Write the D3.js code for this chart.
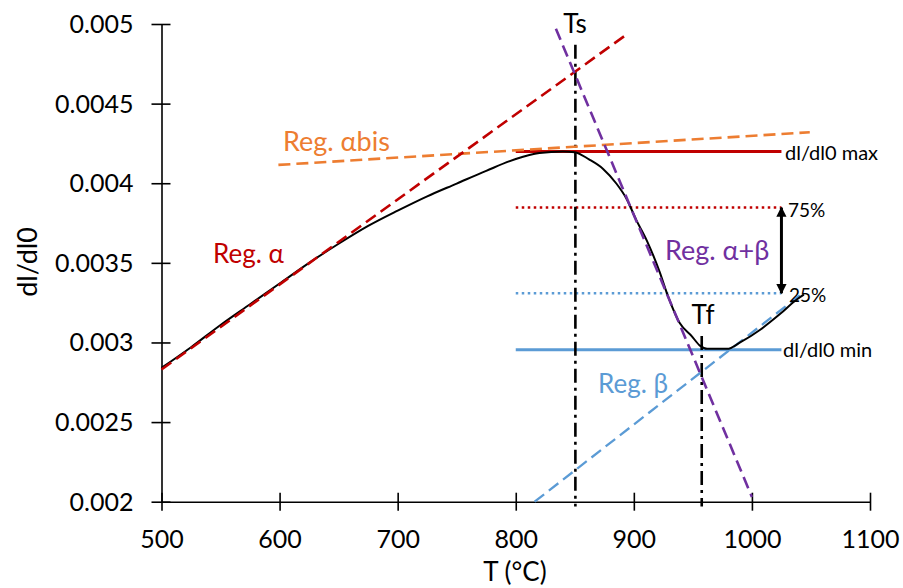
<!DOCTYPE html>
<html><head><meta charset="utf-8">
<script src="https://cdn.jsdelivr.net/npm/d3@7"></script>
<style>
html,body{margin:0;padding:0;background:#fff;}
text{font-family:Lato,"Open Sans",sans-serif;}
</style></head>
<body>
<svg id="chart" width="903" height="588"></svg>
<script>
// ---- data ----
const curveT  = [500,525,550,575,600,625,650,675,700,725,750,775,800,820,840,850,862,874,885,894,902,911,922,928,939,949,956,962,970,979,990,1007,1024,1038,1044];
const curveDl = [0.00284,0.00297,0.00311,0.00324,0.00337,0.00350,0.00362,0.003732,0.003828,0.003918,0.003998,0.004078,0.004152,0.00419,0.00420,0.004195,0.00415,0.00409,0.00400,0.00390,0.00377,0.00364,0.00344,0.00331,0.00312,0.00304,0.00298,0.00296,0.00296,0.00296,0.00300,0.00308,0.00318,0.00327,0.00330];

const regAlpha     = [[500,0.00283],[895,0.00494]];
const regAlphaBis  = [[599,0.004115],[1049,0.00432]];
const regAlphaBeta = [[834,0.00497],[1000,0.00203]];
const regBeta      = [[816,0.00200],[1043,0.00331]];

const dlMax = 0.00420, dlMin = 0.002955, lvl75 = 0.003847, lvl25 = 0.003309;
const hLineStart = 800, hLineEnd = 1025;
const Ts = 850.5, Tf = 957.5;
const TsTop = 0.00487, TfTop = 0.00304;

const xTicks = [500,600,700,800,900,1000,1100];
const yTicks = [0.002,0.0025,0.003,0.0035,0.004,0.0045,0.005];

// ---- scales ----
const svg = d3.select("#chart");
const x = d3.scaleLinear().domain([500,1100]).range([161.5,870]);
const y = d3.scaleLinear().domain([0.002,0.005]).range([501.7,24]);

const C = {red:"#C00000", orange:"#ED7D31", purple:"#7030A0", blue:"#5B9BD5"};

// ---- axes ----
const gx = svg.append("g").attr("transform",`translate(0,${y(0.002)})`)
  .call(d3.axisBottom(x).tickValues(xTicks).tickFormat(d3.format("d")).tickSizeOuter(0));
const gy = svg.append("g").attr("transform",`translate(${x(500)},0)`)
  .call(d3.axisLeft(y).tickValues(yTicks).tickFormat(d=>String(+d.toFixed(4))).tickSizeOuter(0));
[gx,gy].forEach(g=>{
  g.select(".domain").attr("stroke","#000").attr("stroke-width",1.6);
  g.selectAll(".tick line").attr("stroke","#000").attr("stroke-width",1.6);
  g.selectAll(".tick text").attr("fill","#000").style("font-size","25px").style("font-family","Lato");
});
gx.selectAll(".tick line").attr("y1",-9).attr("y2",9);
gx.selectAll(".tick text").attr("y",29);
gy.selectAll(".tick line").attr("x1",-10).attr("x2",9);
gy.selectAll(".tick text").attr("x",-28).attr("dy","0.34em");

svg.append("text").attr("x",515).attr("y",581).attr("text-anchor","middle")
  .style("font-size","26px").text("T (°C)");
svg.append("text").attr("transform","translate(37,262) rotate(-90)").attr("text-anchor","middle")
  .style("font-size","27px").text("dl/dl0");

// ---- lines ----
const line = d3.line().x(d=>x(d[0])).y(d=>y(d[1]));
function seg(pts,color,w,dash){
  svg.append("path").attr("d",line(pts)).attr("fill","none").attr("stroke",color)
    .attr("stroke-width",w).attr("stroke-dasharray",dash||null);
}

// horizontal levels
seg([[hLineStart,lvl75],[hLineEnd,lvl75]],C.red,2.5,"2.5,3.5");
seg([[hLineStart,lvl25],[hLineEnd,lvl25]],C.blue,2.5,"2.5,3.5");
seg([[hLineStart,dlMax],[hLineEnd,dlMax]],C.red,3);
seg([[hLineStart,dlMin],[hLineEnd,dlMin]],C.blue,3);

// verticals
seg([[Ts,TsTop],[Ts,0.00197]],"#000",2.6,"14,5,3,5");
seg([[Tf,TfTop],[Tf,0.00197]],"#000",2.6,"14,5,3,5");

// regression lines
seg(regAlphaBis,C.orange,2.6,"12,6");
seg(regBeta,C.blue,2.3,"12,6");

// black curve
const data = curveT.map((t,i)=>[t,curveDl[i]]);
svg.append("path").datum(data)
  .attr("d",d3.line().x(d=>x(d[0])).y(d=>y(d[1])).curve(d3.curveMonotoneX))
  .attr("fill","none").attr("stroke","#000").attr("stroke-width",2);

seg(regAlpha,C.red,2.6,"12,6");
seg(regAlphaBeta,C.purple,2.6,"12,6");

// arrow
const defs = svg.append("defs");
defs.append("marker").attr("id","ah").attr("viewBox","0 0 10 10").attr("refX",9).attr("refY",5)
  .attr("markerWidth",3.4).attr("markerHeight",4).attr("orient","auto-start-reverse")
  .attr("markerUnits","strokeWidth")
  .append("path").attr("d","M0,0 L10,5 L0,10 Z").attr("fill","#000");
svg.append("path").attr("d",line([[hLineEnd,lvl75],[hLineEnd,lvl25]]))
  .attr("stroke","#000").attr("stroke-width",3).attr("fill","none")
  .attr("marker-start","url(#ah)").attr("marker-end","url(#ah)");

// ---- labels ----
function lab(t,xp,yp,size,color,anchor){
  svg.append("text").attr("x",xp).attr("y",yp).attr("text-anchor",anchor||"start")
    .attr("fill",color||"#000").style("font-size",size+"px").text(t);
}
lab("Reg. αbis",283,151,27,C.orange);
lab("Reg. α",213,263,26,C.red);
lab("Reg. α+β",665,260,27,C.purple);
lab("Reg. β",598,393,26,C.blue);
lab("Ts",575,33,26,"#000","middle");
lab("Tf",703,324,26,"#000","middle");
lab("dl/dl0 max",785,160,20);
lab("75%",788,217,19);
lab("25%",789,302,19);
lab("dl/dl0 min",783,357,20);
</script>
</body></html>
